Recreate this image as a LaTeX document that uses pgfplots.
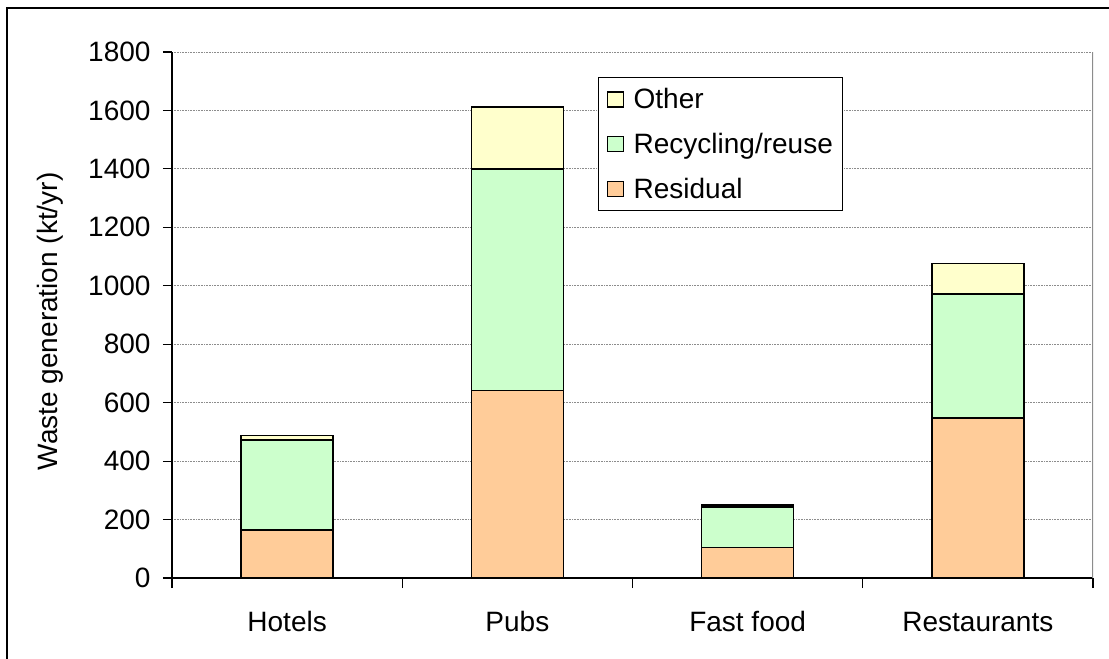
\documentclass[border=0pt]{standalone}
\usepackage{pgfplots}
\pgfplotsset{compat=1.18}
\usepackage{fontspec}
\setmainfont{Liberation Sans}

\definecolor{otherfill}{HTML}{FFFFCC}
\definecolor{recyfill}{HTML}{CCFFCC}
\definecolor{resifill}{HTML}{FFCC99}
\definecolor{gridgray}{HTML}{8C8C8C}

\newcommand{\chartfont}{\fontsize{28bp}{33bp}\selectfont}

\begin{document}
\begin{tikzpicture}
\useasboundingbox (0,0) rectangle (1109bp,659bp);
% outer chart frame
\draw[line width=1.6bp] (7bp,0) -- (7bp,651bp) -- (1109bp,651bp);

\begin{axis}[
  at={(172bp,81bp)}, anchor=south west,
  scale only axis,
  width=921bp, height=526bp,
  ybar stacked,
  bar width=92bp,
  xmin=-0.5, xmax=3.5,
  ymin=0, ymax=1800,
  ytick={0,200,...,1800},
  xtick={0,1,2,3},
  xticklabels={Hotels,Pubs,Fast food,Restaurants},
  minor xtick={-0.5,0.5,1.5,2.5,3.5},
  axis x line*=bottom,
  axis y line*=left,
  axis line style={line width=1.2bp, black},
  tick align=outside,
  major tick length=9bp,
  minor tick length=10bp,
  every tick/.style={black, line width=1.2bp},
  x tick style={draw=none},
  minor x tick style={draw=black, line width=1.2bp},
  ymajorgrids,
  grid style={gridgray, line width=0.9bp, dash pattern=on 1bp off 0.6bp},
  tick label style={font=\chartfont},
  /pgf/number format/assume math mode=true,
  /pgf/number format/1000 sep={},
  yticklabel style={anchor=east, xshift=-9bp},
  xticklabel style={anchor=base, yshift=-44bp},
  ylabel={Waste generation (kt/yr)},
  label style={font=\chartfont},
  ylabel style={at={(axis description cs:-0.1325,0.4877)}, anchor=center},
  reverse legend,
  legend style={
    at={(axis description cs:0.4625,0.9525)}, anchor=north west,
    draw=black, line width=1.2bp,
    font=\chartfont,
    inner xsep=8bp, inner ysep=9bp,
    row sep=19bp,
    legend cell align=left,
    /tikz/every odd column/.append style={column sep=8bp},
  },
  legend image code/.code={
    \draw[#1, line width=1.1bp, draw=black] (0bp,-7.5bp) rectangle (16bp,7.5bp);
  },
]
\addplot[fill=resifill, draw=black, line width=1.6bp] coordinates {(0,165) (1,642) (2,105) (3,548)};
\addplot[fill=recyfill, draw=black, line width=1.6bp] coordinates {(0,307) (1,758) (2,137) (3,423)};
\addplot[fill=otherfill, draw=black, line width=1.6bp] coordinates {(0,15) (1,212) (2,8) (3,105)};
\legend{Residual,Recycling/reuse,Other}
% right border of the plot area
\draw[gridgray, line width=1.2bp] (rel axis cs:1,0) -- (rel axis cs:1,1);
\end{axis}
\end{tikzpicture}
\end{document}
